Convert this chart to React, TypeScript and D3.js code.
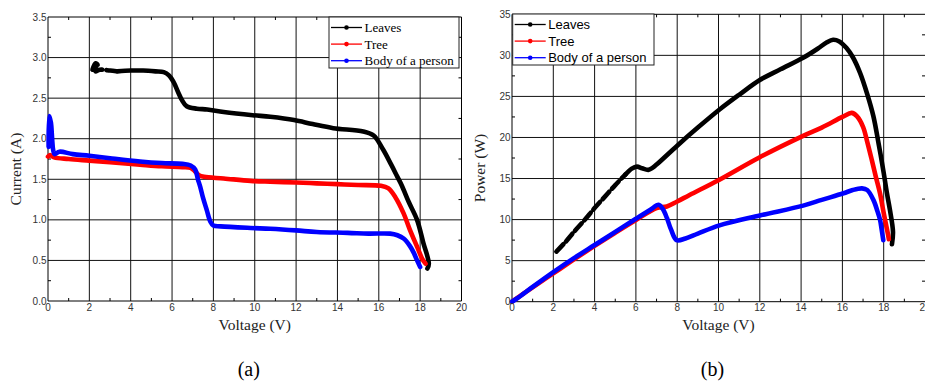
import * as d3 from "d3";
import React from "react";

type Pt = [number, number]; // [voltage, value]

// axis ticks
const voltageTicks = [0, 2, 4, 6, 8, 10, 12, 14, 16, 18, 20];
const currentTicks = [0, 0.5, 1, 1.5, 2, 2.5, 3, 3.5];
const powerTicks = [0, 5, 10, 15, 20, 25, 30, 35];

const seriesNames = ["Leaves", "Tree", "Body of a person"];
const seriesColors = ["#000000", "#ff0000", "#0000ff"];

// (a) current vs voltage
const leavesIV: Pt[] = [
  [2.15, 2.85], [2.3, 2.93], [2.4, 2.91], [2.3, 2.83], [2.5, 2.85], [3.0, 2.84], [3.35, 2.83],
  [4.0, 2.84], [4.6, 2.84], [5.2, 2.83], [5.6, 2.82], [5.85, 2.78], [6.07, 2.7], [6.3, 2.57],
  [6.47, 2.48], [6.71, 2.4], [7.2, 2.37], [7.7, 2.36], [8.5, 2.33], [9.9, 2.29], [10.75, 2.27],
  [11.9, 2.23], [12.8, 2.18], [13.8, 2.13], [15.25, 2.09], [15.75, 2.04], [16.2, 1.87],
  [16.6, 1.68], [16.9, 1.53], [17.1, 1.43], [17.45, 1.22], [17.85, 1.0], [18.15, 0.72],
  [18.42, 0.46], [18.35, 0.4],
];
const treeIV: Pt[] = [
  [0.0, 1.78], [0.1, 1.8], [0.3, 1.77], [1.0, 1.75], [2.0, 1.73], [3.0, 1.71], [4.45, 1.68],
  [5.5, 1.66], [6.5, 1.65], [6.9, 1.64], [7.1, 1.6], [7.3, 1.55], [7.55, 1.53], [8.5, 1.51],
  [9.8, 1.48], [10.75, 1.47], [12.0, 1.46], [13.0, 1.45], [14.0, 1.44], [15.0, 1.43],
  [16.1, 1.42], [16.45, 1.39], [16.8, 1.28], [17.2, 1.08], [17.5, 0.88], [17.85, 0.67],
  [18.1, 0.52], [18.26, 0.46],
];
const bodyIV: Pt[] = [
  [0.03, 1.9], [0.06, 2.28], [0.14, 2.2], [0.2, 2.0], [0.25, 1.86], [0.32, 1.81], [0.55, 1.84],
  [1.2, 1.81], [2.0, 1.79], [3.0, 1.76], [4.45, 1.72], [5.5, 1.7], [6.5, 1.69], [6.9, 1.67],
  [7.12, 1.62], [7.25, 1.5], [7.36, 1.41], [7.5, 1.27], [7.68, 1.12], [7.85, 0.98], [8.0, 0.93],
  [8.35, 0.92], [9.8, 0.9], [10.75, 0.89], [12.0, 0.87], [13.0, 0.85], [14.5, 0.84],
  [15.5, 0.83], [16.55, 0.83], [16.9, 0.81], [17.2, 0.77], [17.5, 0.68], [17.7, 0.59],
  [17.85, 0.5], [18.0, 0.42],
];

// (b) power vs voltage
const leavesPV: Pt[] = [
  [2.15, 6.1], [2.6, 7.3], [3.0, 8.5], [3.5, 9.9], [4.0, 11.4], [4.5, 12.8], [5.0, 14.2],
  [5.5, 15.5], [5.8, 16.2], [6.05, 16.45], [6.3, 16.25], [6.6, 16.05], [6.8, 16.3], [7.0, 16.7],
  [8.0, 19.0], [9.0, 21.2], [10.05, 23.4], [11.0, 25.2], [12.0, 27.0], [13.0, 28.3], [14.1, 29.7],
  [14.8, 30.8], [15.25, 31.6], [15.55, 31.9], [15.85, 31.7], [16.2, 30.9], [16.5, 29.8],
  [16.85, 27.9], [17.2, 25.3], [17.5, 22.6], [17.75, 19.3], [18.0, 15.7], [18.15, 13.3],
  [18.3, 11.2], [18.45, 8.5], [18.4, 7.0],
];
const treePV: Pt[] = [
  [0.0, 0.0], [1.0, 1.75], [2.0, 3.45], [3.0, 5.15], [4.0, 6.8], [5.0, 8.4], [6.0, 9.95],
  [7.0, 11.4], [7.5, 11.6], [8.0, 12.2], [8.6, 13.0], [10.0, 14.8], [12.0, 17.6], [14.1, 20.2],
  [15.0, 21.2], [16.0, 22.5], [16.45, 23.0], [16.7, 22.6], [17.0, 21.3], [17.2, 19.5],
  [17.42, 17.3], [17.62, 15.2], [17.82, 13.2], [18.0, 10.8], [18.2, 8.3], [18.25, 7.6],
];
const bodyPV: Pt[] = [
  [0.0, 0.0], [0.3, 0.5], [1.0, 1.8], [2.0, 3.6], [3.0, 5.3], [4.0, 6.9], [5.0, 8.5], [6.0, 10.1],
  [6.7, 11.2], [7.1, 11.8], [7.3, 11.3], [7.5, 10.2], [7.7, 8.8], [7.97, 7.5], [8.4, 7.7],
  [9.0, 8.3], [10.05, 9.3], [12.0, 10.5], [14.1, 11.7], [15.0, 12.4], [16.05, 13.2], [16.5, 13.6],
  [16.95, 13.8], [17.2, 13.6], [17.5, 12.4], [17.7, 11.0], [17.82, 10.0], [17.9, 8.8], [17.98, 7.5],
];

interface PanelProps {
  left: number;
  right: number;
  top: number;
  bottom: number;
  yTicks: number[];
  yFormat: (d: number) => string;
  series: Pt[][];
  sparseUntil: number; // voltage below which the black markers are spread out
  yTitle: string;
  label: string;
  legendX: number;
  legendY: number;
  legendW: number;
  legendFont: string;
  frameRight: boolean;
}

const serif = "'Liberation Serif', 'Times New Roman', serif";
const sans = "'Liberation Sans', Arial, sans-serif";

const Panel: React.FC<PanelProps> = ({
  left, right, top, bottom, yTicks, yFormat, series, sparseUntil, yTitle, label,
  legendX, legendY, legendW, legendFont, frameRight,
}) => {
  const x = d3.scaleLinear().domain([0, 20]).range([left, right]);
  const y = d3.scaleLinear().domain([0, yTicks[yTicks.length - 1]]).range([bottom, top]);
  const line = d3
    .line<Pt>()
    .x((d) => x(d[0]))
    .y((d) => y(d[1]))
    .curve(d3.curveCatmullRom.alpha(0.5));

  const minorX = voltageTicks.slice(0, -1).map((t, i) => (t + voltageTicks[i + 1]) / 2);
  const minorY = yTicks.slice(0, -1).map((t, i) => (t + yTicks[i + 1]) / 2);
  const cx = (left + right) / 2;

  // black series: sparse (dashed-looking) start, dense rest
  const black = series[0];
  const cut = black.findIndex((d) => d[0] >= sparseUntil);
  const sparsePart = black.slice(0, cut + 1);
  const densePart = black.slice(cut);

  return (
    <g>
      {/* grid */}
      {voltageTicks.slice(1, -1).map((t) => (
        <line key={"gx" + t} x1={x(t)} x2={x(t)} y1={top} y2={bottom} stroke="#111" strokeWidth={1} />
      ))}
      {yTicks.slice(1, -1).map((t) => (
        <line key={"gy" + t} x1={left} x2={right} y1={y(t)} y2={y(t)} stroke="#111" strokeWidth={1} />
      ))}
      {/* frame */}
      <line x1={left} x2={right} y1={top} y2={top} stroke="#000" />
      <line x1={left} x2={right} y1={bottom} y2={bottom} stroke="#000" />
      <line x1={left} x2={left} y1={top} y2={bottom} stroke="#000" />
      {frameRight && <line x1={right} x2={right} y1={top} y2={bottom} stroke="#000" />}
      {/* minor ticks */}
      {minorX.map((t) => (
        <g key={"mx" + t}>
          <line x1={x(t)} x2={x(t)} y1={bottom} y2={bottom - 3} stroke="#000" />
          <line x1={x(t)} x2={x(t)} y1={top} y2={top + 3} stroke="#000" />
        </g>
      ))}
      {minorY.map((t) => (
        <g key={"my" + t}>
          <line x1={left} x2={left + 3} y1={y(t)} y2={y(t)} stroke="#000" />
          <line x1={right} x2={right - 3} y1={y(t)} y2={y(t)} stroke="#000" />
        </g>
      ))}
      {/* curves */}
      <path d={line(sparsePart) || ""} fill="none" stroke="#000" strokeWidth={1} />
      <path
        d={line(sparsePart) || ""}
        fill="none"
        stroke="#000"
        strokeWidth={4.6}
        strokeDasharray="10 4"
        strokeLinecap="round"
      />
      <path d={line(densePart) || ""} fill="none" stroke="#000" strokeWidth={4.6} strokeLinejoin="round" strokeLinecap="round" />
      {series.slice(1).map((s, i) => (
        <path
          key={"s" + i}
          d={line(s) || ""}
          fill="none"
          stroke={seriesColors[i + 1]}
          strokeWidth={4.6}
          strokeLinejoin="round"
          strokeLinecap="round"
        />
      ))}
      {/* tick labels */}
      {yTicks.map((t) => (
        <text key={"ty" + t} x={left - 1.5} y={y(t) + 3.6} textAnchor="end" fontFamily={sans} fontSize={10} fill="#333">
          {yFormat(t)}
        </text>
      ))}
      {voltageTicks.map((t) => (
        <text key={"tx" + t} x={x(t)} y={bottom + 9.5} textAnchor="middle" fontFamily={sans} fontSize={10} fill="#333">
          {t}
        </text>
      ))}
      {/* legend */}
      <rect x={legendX} y={legendY} width={legendW} height={51} fill="#fff" stroke="#222" strokeWidth={1} />
      {seriesNames.map((n, i) => {
        const ry = legendY + 10.5 + i * 16.6;
        return (
          <g key={"lg" + n}>
            <line x1={legendX + 2} x2={legendX + 33} y1={ry} y2={ry} stroke={seriesColors[i]} strokeWidth={1.3} />
            <circle cx={legendX + 17.5} cy={ry} r={2.3} fill={seriesColors[i]} />
            <text x={legendX + 35.5} y={ry + 4.6} fontFamily={legendFont} fontSize={13} fill="#000">
              {n}
            </text>
          </g>
        );
      })}
      {/* titles */}
      <text x={cx} y={330} textAnchor="middle" fontFamily={serif} fontSize={15.5} fill="#222">
        Voltage (V)
      </text>
      <text
        transform={`translate(${left - 27},${(top + bottom) / 2 + 10}) rotate(-90)`}
        textAnchor="middle"
        fontFamily={serif}
        fontSize={15.5}
        fill="#222"
      >
        {yTitle}
      </text>
      <text x={cx - 6} y={376} textAnchor="middle" fontFamily={serif} fontSize={20} fill="#000">
        {label}
      </text>
    </g>
  );
};

export default function App() {
  return (
    <svg
      width={925}
      height={384}
      style={{ position: "absolute", left: 0, top: 0, background: "#fff" }}
    >
      <rect width={925} height={384} fill="#fff" />
      <Panel
        left={48}
        right={461.5}
        top={17}
        bottom={301}
        yTicks={currentTicks}
        yFormat={d3.format(".1f")}
        series={[leavesIV, treeIV, bodyIV]}
        sparseUntil={3.35}
        yTitle="Current (A)"
        label="(a)"
        legendX={329}
        legendY={17}
        legendW={130}
        legendFont={serif}
        frameRight={true}
      />
      <Panel
        left={512}
        right={925}
        top={14.3}
        bottom={301.7}
        yTicks={powerTicks}
        yFormat={d3.format("d")}
        series={[leavesPV, treePV, bodyPV]}
        sparseUntil={5.5}
        yTitle="Power (W)"
        label="(b)"
        legendX={512.7}
        legendY={14}
        legendW={141.3}
        legendFont={sans}
        frameRight={false}
      />
    </svg>
  );
}
